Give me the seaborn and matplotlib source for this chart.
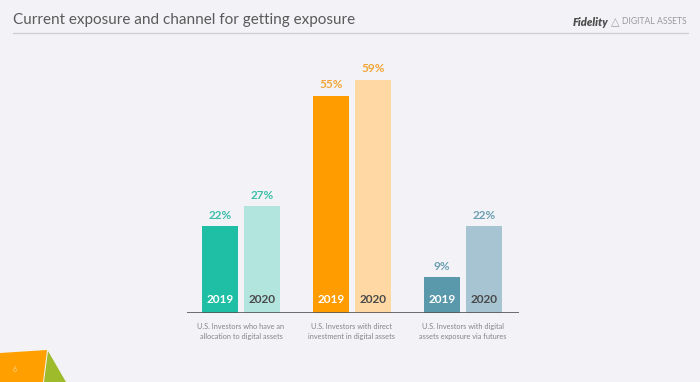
import numpy as np
import pandas as pd
import matplotlib.pyplot as plt
from matplotlib.patches import Polygon
from matplotlib.lines import Line2D
import seaborn as sns

# chart data
groups = ["U.S. Investors who have an\nallocation to digital assets",
          "U.S. Investors with direct\ninvestment in digital assets",
          "U.S. Investors with digital\nassets exposure via futures"]
years = ["2019", "2020"]
values_2019 = [22, 55, 9]
values_2020 = [27, 59, 22]

colors_2019 = ["#1fbfa6", "#ff9d00", "#5a98ac"]
colors_2020 = ["#b2e5de", "#ffd8a3", "#a6c4d1"]
label_colors = ["#3cbfa9", "#f2a535", "#6c9fb1"]

df = pd.DataFrame({
    "group": groups * 2,
    "year": [years[0]] * 3 + [years[1]] * 3,
    "value": values_2019 + values_2020,
})

sns.set_theme(style="white")
plt.rcParams['font.family'] = ['Lato', 'DejaVu Sans']
bg = "#f3f2f7"

fig = plt.figure(figsize=(7, 3.82), dpi=100, facecolor=bg)
ax = fig.add_axes([187 / 700, 69 / 382, 332 / 700, 276.5 / 382])
ax.set_facecolor(bg)

sns.barplot(data=df, x="group", y="value", hue="year", width=0.757, gap=0.13,
            legend=False, ax=ax, saturation=1)

# recolor each bar and add labels
for yi, cont in enumerate(ax.containers):
    cols = colors_2019 if yi == 0 else colors_2020
    for gi, bar in enumerate(cont):
        bar.set_facecolor(cols[gi])
        bar.set_edgecolor("none")
        cx = bar.get_x() + bar.get_width() / 2
        h = bar.get_height()
        ax.text(cx, h + 1.4, f"{int(h)}%", ha="center", va="bottom",
                fontsize=8.5, fontweight="bold", color=label_colors[gi])
        ax.text(cx, 2.0, years[yi], ha="center", va="bottom", fontsize=8.5,
                fontweight="bold", color="white" if yi == 0 else "#4a4a4a")

ax.set_xlim(-0.486, 2.505)
ax.set_ylim(0, 70)
ax.axhline(0, color="#555555", lw=1.2)
for s in ax.spines.values():
    s.set_visible(False)
ax.set_yticks([])
ax.set_xlabel("")
ax.set_ylabel("")
ax.tick_params(axis="x", length=0, pad=7, labelsize=5.3, labelcolor="#858585")
plt.setp(ax.get_xticklabels(), linespacing=1.55)

# header
fig.text(13 / 700, 1 - 20 / 382, "Current exposure and channel for getting exposure",
         fontsize=11, color="#5a5a5a", va="center", ha="left")
fig.add_artist(Line2D([13 / 700, 688 / 700], [1 - 33 / 382] * 2, color="#cfcfd4", lw=1))
fig.text(608 / 700, 1 - 22 / 382, "Fidelity", fontsize=8, fontweight="heavy",
         style="italic", color="#4f4f4f", va="center", ha="right")
fig.text(615 / 700, 1 - 22 / 382, "\u25b3", fontsize=8, color="#a0a0a0",
         va="center", ha="center")
fig.text(622 / 700, 1 - 22 / 382, "DIGITAL ASSETS", fontsize=6.2,
         color="#9a9a9a", va="center", ha="left")

# corner decoration
fig.add_artist(Polygon([[0, 29 / 382], [47 / 700, 32 / 382], [43 / 700, 0], [0, 0]],
                       closed=True, transform=fig.transFigure, color="#ffa000", lw=0))
fig.add_artist(Polygon([[48 / 700, 31 / 382], [66 / 700, 0], [44 / 700, 0]],
                       closed=True, transform=fig.transFigure, color="#9dbb2a", lw=0))
fig.text(15 / 700, 1 - 370 / 382, "6", fontsize=5, color="#ffd08a", ha="center", va="center")

fig.savefig("out.png", dpi=100, facecolor=bg)
